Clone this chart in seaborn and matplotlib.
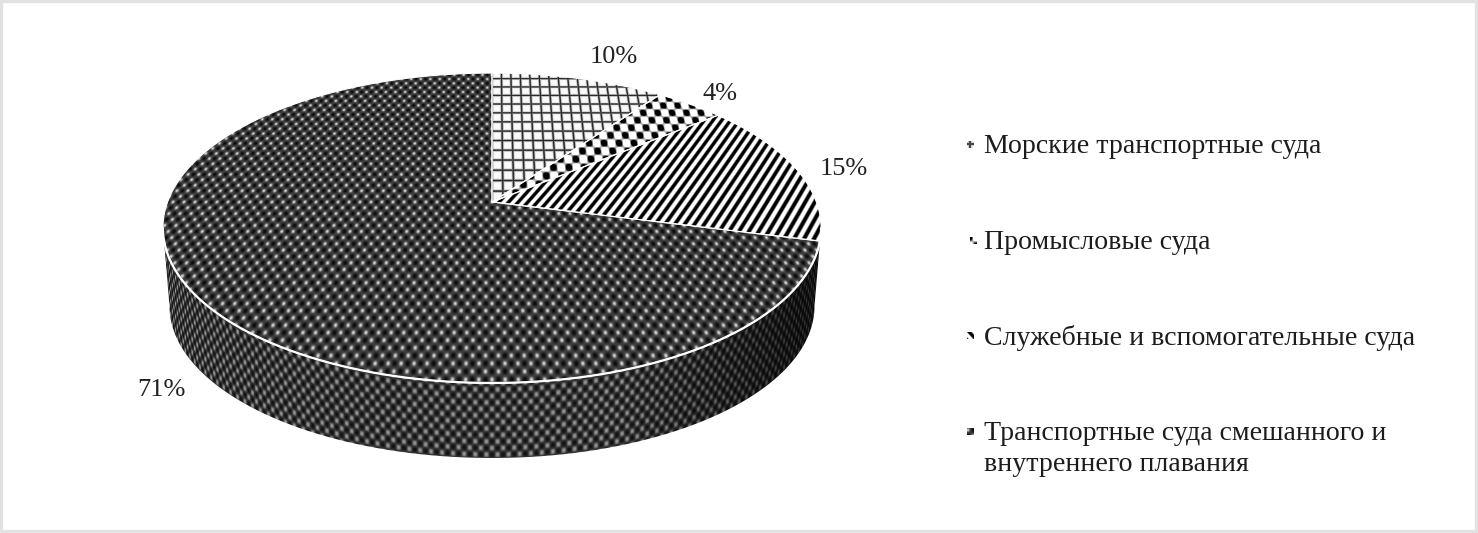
import numpy as np
import matplotlib
matplotlib.use('Agg')
import matplotlib.pyplot as plt
import seaborn as sns

categories = [
    'Морские транспортные суда',
    'Промысловые суда',
    'Служебные и вспомогательные суда',
    'Транспортные суда смешанного и\nвнутреннего плавания',
]
shares = [10, 4, 15, 71]

# picture geometry, pixels
W, H = 1478, 533
cx, cy = 492, 202
a, b, k = 324.4, 150.6, 0.168

label_pos = [(613.5, 57), (720, 94), (843.5, 169), (161.5, 390)]
legend_y = [144, 240, 335, 431]
swatch_x = [970, 973, 970, 970]
swatch_phase = [(0, 0), (4, 3), (7, 2), (2, 1)]

sns.set_theme(style='white')
plt.rcParams['font.family'] = ['Liberation Serif']


def project(u, v):
    w = 1 + k * v
    return cx + a * u / w, cy - b * v / w


def to_disc(X, Y):
    r = cy - Y
    v = r / (b - k * r)
    u = (X - cx) * (1 + k * v) / a
    return a * u, b * v


def grid_tex(px, py):
    dx = np.abs((px + 5.5) % 11 - 5.5)
    dy = np.abs((py + 5.5) % 11 - 5.5)
    d = np.minimum(dx, dy)
    return 0.98 - 0.82 * np.exp(-(d / 1.25) ** 2)


def dots_tex(px, py):
    c = np.cos(2 * np.pi * px / 16) * np.cos(2 * np.pi * py / 18)
    return np.clip(0.72 - 1.6 * c, 0, 1)


def stripe_tex(px, py):
    s = np.sin(2 * np.pi * (px * 0.92 - py * 0.85) / 8.8)
    return np.clip(0.55 + 0.85 * s, 0, 1)


def mesh_tex(px, py):
    c = np.cos(2 * np.pi * px / 11) * np.cos(2 * np.pi * py / 11.4)
    return np.clip(0.24 + 0.6 * np.maximum(c, 0) ** 2 - 0.2 * np.maximum(-c, 0), 0, 1)


textures = [grid_tex, dots_tex, stripe_tex, mesh_tex]

fig = plt.figure(figsize=(W / 100, H / 100), dpi=100)
ax = fig.add_axes([0, 0, 1, 1])
ax.set_xlim(0, W)
ax.set_ylim(H, 0)
ax.set_xticks([])
ax.set_yticks([])
for s in ax.spines.values():
    s.set_color('#e2e2e2')
    s.set_linewidth(4.5)

X, Y = np.meshgrid(np.arange(W) + 0.5, np.arange(H) + 0.5)
px, py = to_disc(X, Y)

# side of the disc
th = np.linspace(np.pi + np.arcsin(k), 2 * np.pi - np.arcsin(k), 300)
rx, ry = project(np.cos(th), np.sin(th))
lx = cx + 0.98 * (rx - cx)
ly = cy + 78.6 + 0.98 * (ry - cy)
side = ax.fill(np.r_[rx, lx[::-1]], np.r_[ry, ly[::-1]], facecolor='none', edgecolor='none')[0]

sx = np.arcsin(np.clip((X - cx) / 333, -1, 1)) * 329
rim = cy + 181 * np.sqrt(np.clip(1 - ((X - cx) / 333) ** 2, 0, 1))
c1 = np.cos(2 * np.pi * sx / 11)
c2 = np.cos(2 * np.pi * (Y - rim) / 13)
side_tex = 0.2 + 0.4 * np.maximum(c1 * c2, 0) - 0.14 * np.maximum(-c1 * c2, 0)
side_tex = side_tex * (1 - 0.65 * np.clip((X - 620) / 180, 0, 1))
im = ax.imshow(np.clip(side_tex, 0, 1), cmap='gray', vmin=0, vmax=1, extent=(0, W, H, 0),
               interpolation='bilinear', zorder=1, aspect='auto')
im.set_clip_path(side)

# top of the disc, one wedge per share
edges = np.r_[0, np.cumsum(shares)] / sum(shares) * 2 * np.pi
for i, tex in enumerate(textures):
    ang = np.linspace(edges[i], edges[i + 1], 200)
    wx, wy = project(np.sin(ang), np.cos(ang))
    poly = ax.fill(np.r_[cx, wx], np.r_[cy, wy], facecolor='none', edgecolor='white', linewidth=0.8, zorder=3)[0]
    im = ax.imshow(tex(px, py), cmap='gray', vmin=0, vmax=1, extent=(0, W, H, 0),
                   interpolation='bilinear', zorder=2, aspect='auto')
    im.set_clip_path(poly)

ax.plot(rx, ry, color='white', linewidth=1.6, zorder=4)

for v, (x, y) in zip(shares, label_pos):
    ax.text(x, y, f'{v}%', ha='center', va='center', fontsize=19, color='#222222')

# legend
for i, name in enumerate(categories):
    y = legend_y[i]
    ax.text(984, y - 10, name, ha='left', va='top', fontsize=20.1, color='#1c1c1c', linespacing=1.34)
    x0 = swatch_x[i]
    p0, p1 = swatch_phase[i]
    sw_x, sw_y = np.meshgrid(np.arange(x0 - 3, x0 + 4) + 0.5, np.arange(y - 3, y + 4) + 0.5)
    ax.imshow(textures[i](sw_x - x0 + p0, sw_y - y + p1), cmap='gray', vmin=0, vmax=1, aspect='auto',
              extent=(x0 - 3, x0 + 4, y + 4, y - 3), interpolation='bilinear', zorder=2)

ax.set_xlim(0, W)
ax.set_ylim(H, 0)
fig.savefig('out.png', dpi=100)
